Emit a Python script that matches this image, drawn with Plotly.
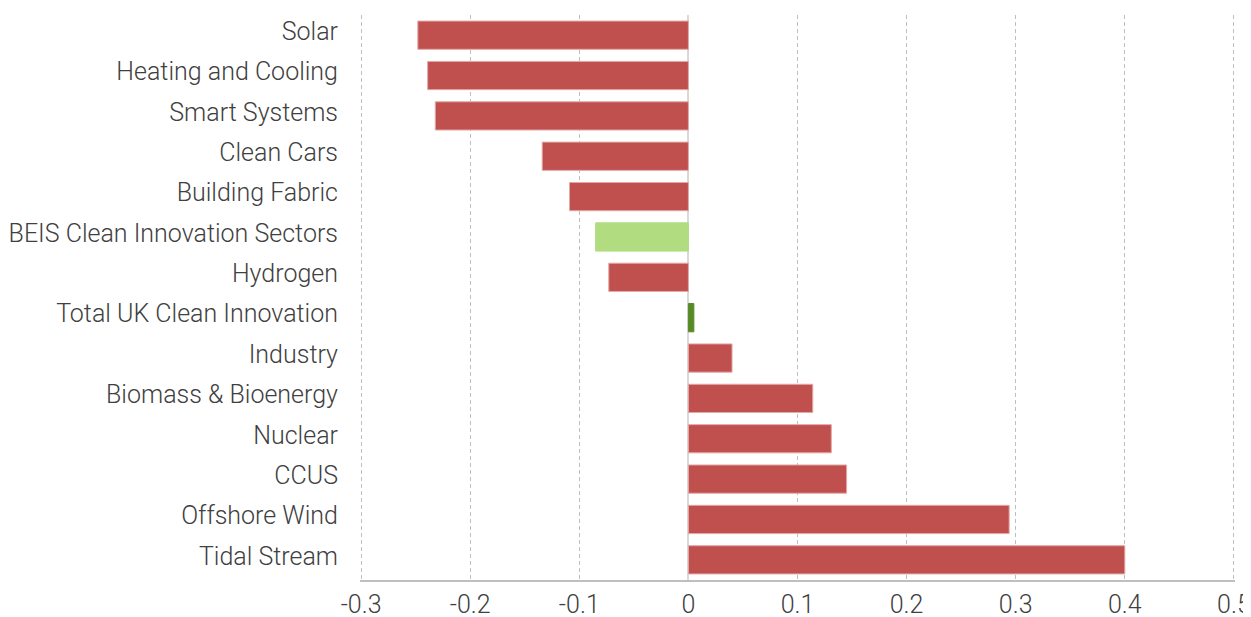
import plotly.graph_objects as go

categories = ["Solar", "Heating and Cooling", "Smart Systems", "Clean Cars", "Building Fabric",
              "BEIS Clean Innovation Sectors", "Hydrogen", "Total UK Clean Innovation", "Industry",
              "Biomass & Bioenergy", "Nuclear", "CCUS", "Offshore Wind", "Tidal Stream"]
values = [-0.248, -0.239, -0.232, -0.134, -0.109, -0.085, -0.073, 0.005, 0.040,
          0.114, 0.131, 0.145, 0.294, 0.400]
RED = "#C0504D"
colors = [RED] * 5 + ["#B1DC80", RED, "#578A25"] + [RED] * 6
outline = ["#E3A9A8"] * 5 + ["#B1DC80", "#E3A9A8", "#578A25"] + ["#E3A9A8"] * 6

tick_vals = [-0.3, -0.2, -0.1, 0, 0.1, 0.2, 0.3, 0.4, 0.5]
tick_text = ["-0.3", "-0.2", "-0.1", "0", "0.1", "0.2", "0.3", "0.4", "0.5"]

fig = go.Figure(go.Bar(
    x=values, y=categories, orientation="h",
    marker=dict(color=colors, line=dict(color=outline, width=1)),
    width=0.7,
))

# page body has an 8px default margin, so offsets are compensated in the margins
font_family = "Roboto, 'Open Sans', sans-serif"
tf = dict(family=font_family, size=25, color="#404040", weight=300)
fig.update_layout(
    width=1251, height=617,
    margin=dict(l=352, r=24, t=7, b=45),
    plot_bgcolor="white", paper_bgcolor="white",
    showlegend=False,
    font=tf,
)
fig.update_xaxes(
    range=[-0.301, 0.501], tickvals=tick_vals, ticktext=tick_text,
    showgrid=True, gridcolor="#BFBFBF", griddash="4px,3px", gridwidth=1,
    zeroline=True, zerolinecolor="#D9D9D9", zerolinewidth=2,
    showline=True, linecolor="#BFBFBF", linewidth=2,
    ticks="", ticklabelstandoff=1, automargin=False,
    tickfont=tf,
)
fig.update_yaxes(
    autorange="reversed", showgrid=False, showline=False, zeroline=False,
    ticks="", ticklabelstandoff=21, ticklabelshift=4, automargin=False,
    tickfont=tf,
)
fig.write_html("out.html")
